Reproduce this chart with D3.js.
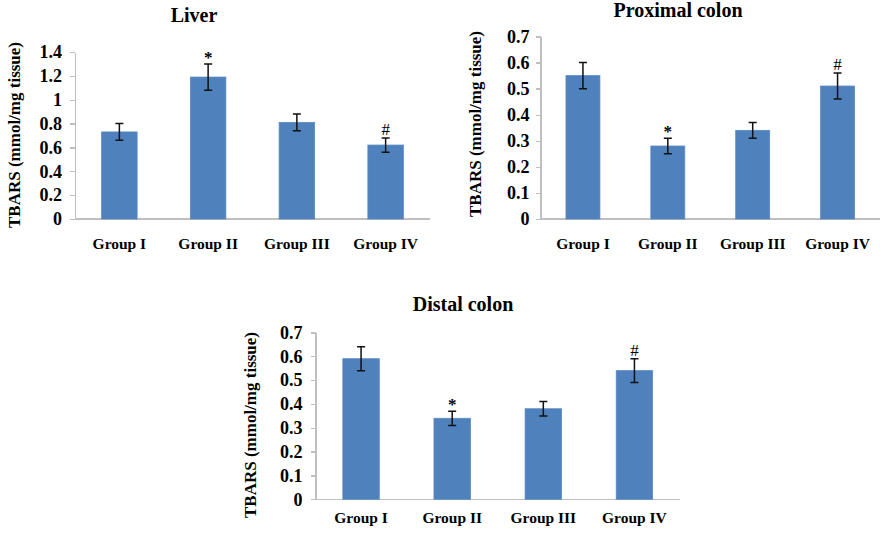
<!DOCTYPE html>
<meta charset="utf-8">
<style>
body { margin: 0; background: #fff; }
svg text { font-family: "Liberation Serif", "Times New Roman", serif; font-weight: bold; fill: #000; }
.axis path, .axis line { stroke: #bfbfbf; stroke-width: 1.3; shape-rendering: crispEdges; }
.axis text { font-size: 18px; }
.bar { fill: #4f81bd; stroke: #5a8ac4; stroke-width: 0.8; }
.err { stroke: #111; stroke-width: 1.5; fill: none; }
.base { stroke: #bfbfbf; stroke-width: 1.3; shape-rendering: crispEdges; }
</style>
<svg width="884" height="534"></svg>
<script src="https://d3js.org/d3.v7.min.js"></script>
<script>

var groups = ["Group I", "Group II", "Group III", "Group IV"];

// TBARS means and error (+/-)
var liverMean = [0.73, 1.19, 0.81, 0.62];
var liverErr  = [0.07, 0.11, 0.07, 0.06];
var proxMean  = [0.55, 0.28, 0.34, 0.51];
var proxErr   = [0.05, 0.03, 0.03, 0.05];
var distMean  = [0.59, 0.34, 0.38, 0.54];
var distErr   = [0.05, 0.03, 0.03, 0.05];
var marks     = ["", "*", "", "#"];

var liverTicks = [0, 0.2, 0.4, 0.6, 0.8, 1, 1.2, 1.4];
var colonTicks = [0, 0.1, 0.2, 0.3, 0.4, 0.5, 0.6, 0.7];

var yLabel = "TBARS (mmol/mg tissue)";

var svg = d3.select("svg");

// panel layout
var panels = [
  { title: "Liver", mean: liverMean, err: liverErr, ticks: liverTicks,
    x0: 75, x1: 430, top: 52, bottom: 219,
    titleX: 194, titleY: 22, labX: 14, labY: 135, grpY: 249, pad: 8 },
  { title: "Proximal colon", mean: proxMean, err: proxErr, ticks: colonTicks,
    x0: 540.5, x1: 880, top: 36.5, bottom: 219,
    titleX: 678, titleY: 17, labX: 475, labY: 124, grpY: 249, pad: 6 },
  { title: "Distal colon", mean: distMean, err: distErr, ticks: colonTicks,
    x0: 315.5, x1: 680, top: 332.5, bottom: 499.3,
    titleX: 463, titleY: 311, labX: 250, labY: 425, grpY: 523, pad: 8 }
];

panels.forEach(drawPanel);

function drawPanel(p) {
  var g = svg.append("g");

  var x = d3.scaleBand()
      .domain(groups)
      .range([p.x0, p.x1])
      .paddingInner(0.6)
      .paddingOuter(0.3);

  var y = d3.scaleLinear()
      .domain([0, d3.max(p.ticks)])
      .range([p.bottom, p.top]);

  // y axis
  g.append("g")
      .attr("class", "axis")
      .attr("transform", "translate(" + p.x0 + ",0)")
      .call(d3.axisLeft(y)
        .tickValues(p.ticks)
        .tickSize(5)
        .tickSizeOuter(0)
        .tickPadding(p.pad)
        .tickFormat(function(d) { return String(+d.toFixed(1)); }));

  // baseline
  g.append("line")
      .attr("class", "base")
      .attr("x1", p.x0).attr("x2", p.x1)
      .attr("y1", y(0)).attr("y2", y(0));

  // bars
  g.selectAll(".bar")
    .data(p.mean)
    .enter().append("rect")
      .attr("class", "bar")
      .attr("x", function(d, i) { return x(groups[i]); })
      .attr("width", x.bandwidth())
      .attr("y", function(d) { return y(d); })
      .attr("height", function(d) { return y(0) - y(d); });

  // error bars
  var cap = 4;
  p.mean.forEach(function(m, i) {
    var cx = x(groups[i]) + x.bandwidth() / 2;
    var hi = y(m + p.err[i]), lo = y(m - p.err[i]);
    g.append("path")
      .attr("class", "err")
      .attr("d", "M" + cx + "," + hi + "V" + lo +
                 "M" + (cx - cap) + "," + hi + "H" + (cx + cap) +
                 "M" + (cx - cap) + "," + lo + "H" + (cx + cap));
    if (marks[i]) {
      g.append("text")
        .attr("x", cx)
        .attr("y", hi - (marks[i] == "*" ? 1 : 3))
        .attr("text-anchor", "middle")
        .style("font-size", "17px")
        .style("font-weight", marks[i] == "*" ? "bold" : "normal")
        .text(marks[i]);
    }
  });

  // group labels
  g.selectAll(".grp")
    .data(groups)
    .enter().append("text")
      .attr("class", "grp")
      .attr("x", function(d) { return x(d) + x.bandwidth() / 2; })
      .attr("y", p.grpY)
      .attr("text-anchor", "middle")
      .style("font-size", "15.5px")
      .text(function(d) { return d; });

  // title
  g.append("text")
      .attr("x", p.titleX)
      .attr("y", p.titleY)
      .attr("text-anchor", "middle")
      .style("font-size", "20px")
      .text(p.title);

  // y label
  g.append("text")
      .attr("transform", "translate(" + p.labX + "," + p.labY + ") rotate(-90)")
      .attr("dy", "0.35em")
      .attr("text-anchor", "middle")
      .style("font-size", "17px")
      .text(yLabel);
}

</script>
